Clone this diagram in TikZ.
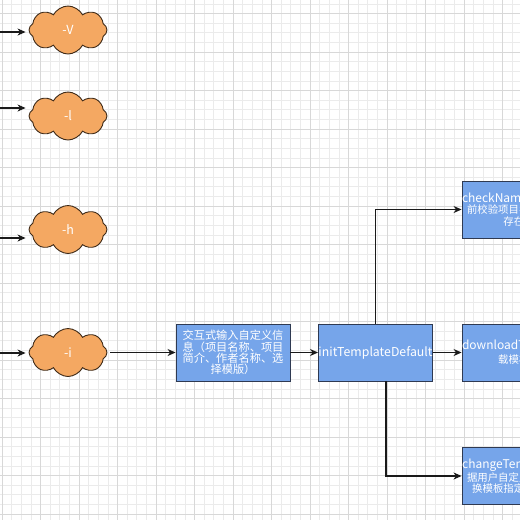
\documentclass[tikz,border=0pt]{standalone}
\usepackage{fontspec}
\setmainfont{Noto Sans CJK SC}
\usetikzlibrary{shapes.symbols,arrows.meta}
\definecolor{boxfill}{HTML}{76A5EA}
\definecolor{boxline}{HTML}{2F3A52}
\definecolor{cloudfill}{HTML}{F4A862}
\definecolor{cloudline}{HTML}{3E2A18}
\definecolor{gridminor}{HTML}{EBEBEB}
\definecolor{gridmajor}{HTML}{D8D8D8}
\definecolor{wire}{HTML}{1A1A1A}
\tikzset{
  cloudbox/.style={cloud, cloud puffs=8, cloud puff arc=125, cloud ignores aspect,
    minimum width=78pt, minimum height=48pt, inner sep=0pt, fill=cloudfill, draw=cloudline,
    line width=0.9pt, text=white, font=\fontsize{12.5}{13}\selectfont},
  procbox/.style={rectangle, minimum width=114pt, minimum height=57pt, inner sep=0pt,
    fill=boxfill, draw=boxline, line width=0.9pt, text=white, align=center},
  sidebox/.style={procbox, text width=114pt},
  arr/.style={draw=wire, line width=1.1pt, -{Stealth[length=8pt,width=7pt,inset=2.5pt]}}
}
\newcommand{\latn}[1]{{\fontsize{12}{11}\selectfont #1}}
\begin{document}
\begin{tikzpicture}[x=1pt,y=-1pt]
\useasboundingbox (0,0) rectangle (520,520);
\begin{scope}
\clip (0,0) rectangle (520,520);
\fill[white] (0,0) rectangle (520,520);
\foreach \i in {-2,...,55} {
  \draw[gridminor, line width=0.6pt] ({2+\i*9.625},0) -- ({2+\i*9.625},520);
  \draw[gridminor, line width=0.6pt] (0,{13.5+\i*9.625}) -- (520,{13.5+\i*9.625});
}
\foreach \i in {-1,...,14} {
  \draw[gridmajor, line width=0.7pt] ({2+\i*38.5},0) -- ({2+\i*38.5},520);
  \draw[gridmajor, line width=0.7pt] (0,{13.5+\i*38.5}) -- (520,{13.5+\i*38.5});
}

% clouds
\node[cloudbox] (cv) at (68,30) {-V};
\node[cloudbox] (cl) at (68,116) {-l};
\node[cloudbox] (ch) at (68,229.5) {-h};
\node[cloudbox] (ci) at (68,352.5) {-i};

\coordinate (sv) at (-10,32);
\coordinate (sl) at (-10,108);
\coordinate (sh) at (-10,238);
\coordinate (si) at (-10,353);
\draw[arr, shorten >=3pt] (sv) -- (sv -| cv.west);
\draw[arr, shorten >=3pt] (sl) -- (sl -| cl.west);
\draw[arr, shorten >=3pt] (sh) -- (sh -| ch.west);
\draw[arr, shorten >=3pt] (si) -- (si -| ci.west);

% boxes
\node[procbox, font=\fontsize{11.2}{11.2}\selectfont] (b1) at (233,352.5)
  {交互式输入自定义信\\息（项目名称、项目\\简介、作者名称、选\\择模版）};
\node[procbox, font=\fontsize{12.3}{12}\selectfont] (b2) at (375.5,352.5) {initTemplateDefault};
\node[sidebox, font=\fontsize{10.4}{11.5}\selectfont] (bc) at (519,209.5)
  {\latn{checkName}（项目创建\\前校验项目名称是否已\\存在）};
\node[sidebox, font=\fontsize{10.4}{14}\selectfont] (bd) at (519,352.5)
  {\latn{downloadTemplate}（下\\载模板）};
\node[sidebox, font=\fontsize{10.4}{11}\selectfont] (bx) at (519,476)
  {\latn{changeTemplate}（根\\据用户自定义信息来替\\换模板指定的内容）};

% connectors
\draw[arr, shorten <=3pt] (ci.east) -- (b1.west);
\draw[arr] (b1.east) -- (b2.west);
\draw[arr] (b2.east) -- (bd.west);
\draw[arr] (b2.north) |- (bc.west);
\draw[arr] ([xshift=10.5pt]b2.south) |- (bx.west);
\end{scope}
\end{tikzpicture}
\end{document}
